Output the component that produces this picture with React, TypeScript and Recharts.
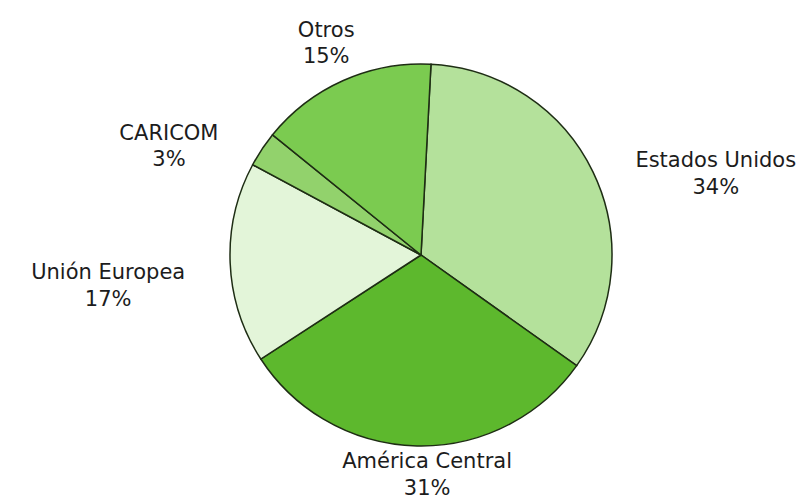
import React from 'react';
import { PieChart, Pie, Cell } from 'recharts';

const regions = ['Estados Unidos', 'América Central', 'Unión Europea', 'CARICOM', 'Otros'];
const shares = [34, 31, 17, 3, 15];
const sliceColors = ['#b4e19b', '#5db82d', '#e3f5d9', '#92d26c', '#7bcb50'];

const pieData = regions.map((name, i) => ({ name, value: shares[i] }));

// hand-placed labels in the original, so nudge each one off its radial spot
const labelNudge: Record<string, [number, number]> = {
  'Estados Unidos': [85, 19],
  'América Central': [11, -14],
  'Unión Europea': [-80, 20],
  CARICOM: [-58, 19],
  Otros: [0, 0],
};

const RADIAN = Math.PI / 180;

const renderLabel = (props: any) => {
  const { cx, cy, midAngle, outerRadius, name, value } = props;
  const r = outerRadius + 42;
  const [dx, dy] = labelNudge[name] || [0, 0];
  const x = cx + r * Math.cos(-midAngle * RADIAN) + dx;
  const y = cy + r * Math.sin(-midAngle * RADIAN) + dy;
  return (
    <text
      x={x}
      y={y}
      textAnchor="middle"
      fill="#1c1c1c"
      fontFamily="'DejaVu Sans', sans-serif"
      fontSize={21}
    >
      <tspan x={x} y={y - 5.5}>{name}</tspan>
      <tspan x={x} y={y + 21}>{value}%</tspan>
    </text>
  );
};

const App: React.FC = () => {
  return (
    <div style={{ width: 803, height: 499, background: '#fff' }}>
      <style>{`body{margin:0}`}</style>
      <PieChart width={803} height={499}>
        <Pie
          data={pieData}
          dataKey="value"
          nameKey="name"
          cx={416}
          cy={250}
          outerRadius={191}
          startAngle={87}
          endAngle={-273}
          stroke="#1e2d14"
          strokeWidth={1.5}
          labelLine={false}
          label={renderLabel}
          isAnimationActive={false}
        >
          {pieData.map((entry, i) => (
            <Cell key={entry.name} fill={sliceColors[i]} />
          ))}
        </Pie>
      </PieChart>
    </div>
  );
};

export default App;
